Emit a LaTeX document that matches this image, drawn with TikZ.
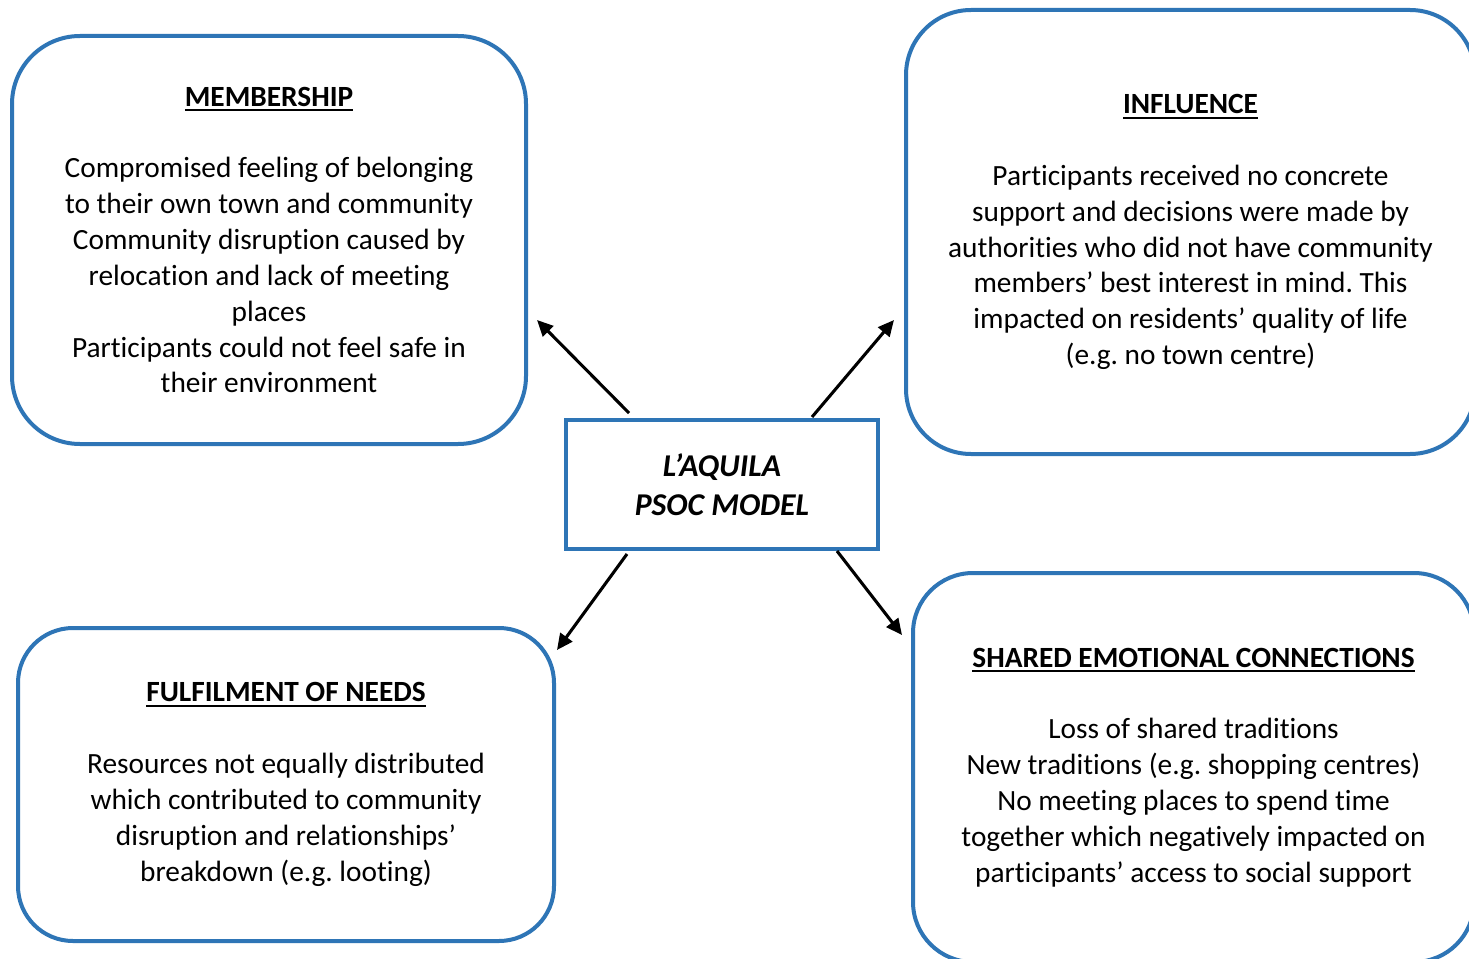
\documentclass[tikz,border=0pt]{standalone}
\usepackage{fontspec}
\setmainfont[Ligatures=NoCommon]{Carlito}
\usetikzlibrary{arrows.meta}
\definecolor{boxblue}{RGB}{46,117,182}
\frenchspacing
% bold heading with a heavier underline
\newcommand\headline[1]{\begingroup\setbox0\hbox{\textbf{#1}}\rlap{\rule[-3.8pt]{\wd0}{1.4pt}}\box0\endgroup}
\begin{document}
\begin{tikzpicture}[x=0.75pt,y=-0.75pt,
  card/.style={draw=boxblue,line width=3pt,align=center,inner sep=0pt,
    font=\fontsize{22pt}{26.9pt}\selectfont},
  modelbox/.style={draw=boxblue,line width=3pt,align=center,inner sep=0pt,
    minimum width=234pt,minimum height=96.75pt,
    font=\fontsize{23.8pt}{29.25pt}\selectfont\bfseries\itshape},
  link/.style={line width=2.3pt,-{Triangle[length=12pt,width=11pt]}}]
\clip (0,0) rectangle (1469,959);
\fill[white] (0,0) rectangle (1469,959);

\node[modelbox] (model) at (722,484.5) {L’AQUILA\\PSOC MODEL};

\node[card,minimum width=385.5pt,minimum height=306pt,rounded corners=51pt]
  (member) at (269,240)
  {\headline{MEMBERSHIP}\\[26.9pt]
   Compromised feeling of belonging\\
   to their own town and community\\
   Community disruption caused by\\
   relocation and lack of meeting\\
   places\\
   Participants could not feel safe in\\
   their environment};

\node[card,minimum width=426.75pt,minimum height=333pt,rounded corners=48.75pt]
  (influence) at (1190.5,232)
  {\headline{INFLUENCE}\\[26.9pt]
   Participants received no concrete\\
   support and decisions were made by\\
   authorities who did not have community\\
   members’ best interest in mind. This\\
   impacted on residents’ quality of life\\
   (e.g. no town centre)};

\node[card,minimum width=402pt,minimum height=234.75pt,rounded corners=41.25pt]
  (needs) at (286,784.5)
  {\headline{FULFILMENT OF NEEDS}\\[26.9pt]
   Resources not equally distributed\\
   which contributed to community\\
   disruption and relationships’\\
   breakdown (e.g. looting)};

\node[card,minimum width=420.75pt,minimum height=291.75pt,rounded corners=45pt]
  (shared) at (1193.5,767.5)
  {\headline{SHARED EMOTIONAL CONNECTIONS}\\[26.9pt]
   Loss of shared traditions\\
   New traditions (e.g. shopping centres)\\
   No meeting places to spend time\\
   together which negatively impacted on\\
   participants’ access to social support};

% arrow ends, set a little apart from the boxes
\coordinate (m1) at (629,413);  \coordinate (t1) at (537,320);
\coordinate (m2) at (812,417);  \coordinate (t2) at (894,320);
\coordinate (m3) at (627,554);  \coordinate (t3) at (557,650);
\coordinate (m4) at (837,551);  \coordinate (t4) at (902,635);

\draw[link] (m1) -- (t1);
\draw[link] (m2) -- (t2);
\draw[link] (m3) -- (t3);
\draw[link] (m4) -- (t4);
\end{tikzpicture}
\end{document}
